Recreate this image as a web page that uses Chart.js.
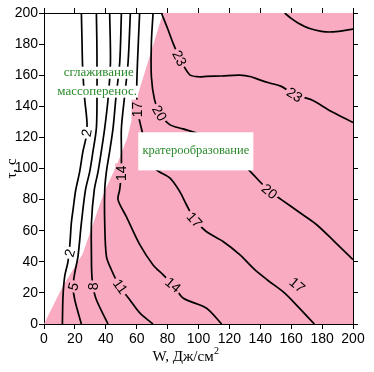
<!DOCTYPE html>
<html lang="ru">
<head>
<meta charset="utf-8">
<title>Кратерообразование</title>
<script src="https://cdn.jsdelivr.net/npm/chart.js@4.4.0/dist/chart.umd.min.js"></script>
<style>
    html, body { margin: 0; padding: 0; background: #fff; }
    #wrap { width: 374px; height: 372px; }
</style>
</head>
<body>
<div id="wrap"><canvas id="chart" width="374" height="372"></canvas></div>
<script>
/**
 * Данные: W (Дж/см2) и τ (с)
 */
const xTicks = [0, 20, 40, 60, 80, 100, 120, 140, 160, 180, 200];
const yTicks = [0, 20, 40, 60, 80, 100, 120, 140, 160, 180, 200];

// граница области кратерообразования
const craterW = [0, 12, 25, 39, 47, 54, 60, 77, 200, 200, 0];
const craterT = [0, 24, 45, 85, 102, 120, 145, 200, 200, 0, 0];

// изолинии
const c2W = [24.2, 24.6, 25.0, 26.3, 27.8, 27.4, 25.2, 23.1, 20.5, 19.0, 17.7, 16.8, 15.5, 13.4, 12.3, 11.9];
const c2T = [200, 182, 165, 145, 130, 121, 111, 98, 86, 75, 65, 52, 40, 30.6, 17.7, 0];

const c5W = [33.9, 34.2, 34.3, 34.3, 33.9, 31.7, 29.6, 26.8, 24.2, 22.0, 19.9, 18.8, 19.9, 24.2];
const c5T = [200, 182, 168, 145, 126, 111, 98, 86, 65, 43.5, 32.8, 24.2, 15.6, 0];

const c8W = [42.5, 43.0, 41.5, 39.3, 37.1, 35.0, 32.5, 30.7, 30.7, 30.9, 31.7, 33.9, 41.4];
const c8T = [200, 168, 145, 126, 111, 98, 86, 65, 43.5, 32.8, 24.2, 15.6, 0];

const c11W = [50.1, 49.0, 46.5, 44.7, 42.5, 40.4, 39.3, 39.3, 40.4, 43.6, 49.0, 55.5, 62.0, 70.5];
const c11T = [200, 168, 145, 126, 111, 98, 86, 65, 43.5, 34.9, 24.2, 15.6, 7.1, 0];

const c14W = [55.9, 54.4, 52.0, 50.1, 50.1, 50.0, 49.0, 47.9, 53.3, 62.0, 70.6, 77.0, 83.5, 90.0, 105.0, 115.0];
const c14T = [200, 168, 145, 126, 111, 97, 86.4, 80, 69, 51, 38, 31.7, 25.3, 16.7, 10.3, 0];

const c17W = [61.9, 60.5, 60.0, 60.5, 62.5, 66.0, 70.0, 72.7, 81.4, 87.8, 92.2, 97.5, 105.0, 115.9, 126.7, 136.4, 145.0, 155.8, 165.0, 175.0];
const c17T = [200, 168, 150, 138, 128, 115, 104, 99.2, 93.9, 85.3, 76.7, 67, 59.5, 53.1, 44.6, 34.9, 28, 19.9, 10.5, 0];

const c20W = [70.6, 69.5, 69.5, 71.6, 74.9, 81.4, 90.0, 100.8, 112.0, 122.0, 130.0, 137.5, 146.0, 153.6, 165.0, 176.3, 188.0, 200];
const c20T = [200, 181, 159, 144, 135.7, 128.2, 125.5, 122, 116, 108, 101.5, 93.9, 85.3, 80, 72, 64, 53, 41.4];

const c23W = [76.0, 80.0, 83.5, 87.8, 94.3, 100.0, 105.0, 115.0, 126.7, 134.0, 139.6, 146.0, 153.6, 162.3, 173.0, 186.0, 200];
const c23T = [200, 190, 180.7, 171, 160.3, 159, 159.2, 159.5, 160, 159, 157, 155, 152.8, 147.5, 144.2, 136.7, 129.6];

const c26W = [155.8, 160.0, 164.4, 172.0, 179.5, 186.0, 193.0, 200];
const c26T = [200, 196.5, 193.6, 190, 188.2, 187.8, 188.5, 189.7];

// подписи изолиний
const labelText = ['2', '2', '5', '8', '11', '14', '14', '17', '17', '17', '20', '20', '23', '23'];
const labelW = [27.4, 16.6, 18.8, 31.7, 49.5, 50.0, 83.5, 60.5, 97.5, 164.0, 74.9, 146.0, 87.8, 162.3];
const labelT = [123, 45.7, 24.2, 24.2, 24.2, 97, 25.3, 138, 67, 25.3, 135.7, 85.3, 171, 147.5];
const labelAngle = [-80, -75, -75, -90, 55, -90, 40, -90, 48, 40, 60, 40, 62, 33];

const PINK = '#f9abc1';
const GREEN = '#2b8a2b';
const SERIF = '"Liberation Serif", "Times New Roman", serif';
const SANS = '"Liberation Sans", Arial, sans-serif';

function toPoints(ws, ts) {
    return ws.map((w, i) => ({ x: w, y: ts[i] }));
}

/**
 * Точка внутри области кратерообразования?
 */
function inCrater(w, t) {
    let inside = false;
    for (let i = 0, j = craterW.length - 1; i < craterW.length; j = i++) {
        const xi = craterW[i], yi = craterT[i], xj = craterW[j], yj = craterT[j];
        if ((yi > t) !== (yj > t) && w < (xj - xi) * (t - yi) / (yj - yi) + xi) {
            inside = !inside;
        }
    }
    return inside;
}

function contour(ws, ts) {
    return {
        data: toPoints(ws, ts),
        showLine: true,
        borderColor: '#000',
        borderWidth: 1.7,
        pointRadius: 0,
        tension: 0.3,
        fill: false,
        order: 1
    };
}

/**
 * Надписи, белая рамка, подписи изолиний, подпись оси X
 */
const annotations = {
    id: 'annotations',
    afterDatasetsDraw(chart) {
        const { ctx, chartArea, scales: { x, y } } = chart;
        ctx.save();

        // белая плашка "кратерообразование"
        const bx1 = x.getPixelForValue(61), bx2 = x.getPixelForValue(135.5);
        const by1 = y.getPixelForValue(123.3), by2 = y.getPixelForValue(98.8);
        ctx.fillStyle = '#fff';
        ctx.fillRect(bx1, by1, bx2 - bx1, by2 - by1);
        ctx.fillStyle = GREEN;
        ctx.font = '12.5px ' + SERIF;
        ctx.textAlign = 'center';
        ctx.textBaseline = 'alphabetic';
        ctx.fillText('кратерообразование', (bx1 + bx2) / 2, (by1 + by2) / 2 + 3);

        // надписи в левой области
        [['сглаживание', 35.4, 161.6], ['массоперенос.', 34.4, 149.4]].forEach(([txt, w, t]) => {
            const px = x.getPixelForValue(w), py = y.getPixelForValue(t);
            ctx.font = '13px ' + SERIF;
            const tw = ctx.measureText(txt).width;
            ctx.fillStyle = '#fff';
            ctx.fillRect(px - tw / 2 - 1, py - 6, tw + 2, 12);
            ctx.fillStyle = GREEN;
            ctx.fillText(txt, px, py + 3);
        });

        // подписи изолиний
        ctx.font = '14px ' + SANS;
        labelText.forEach((txt, i) => {
            const px = x.getPixelForValue(labelW[i]);
            const py = y.getPixelForValue(labelT[i]);
            ctx.save();
            ctx.translate(px, py);
            ctx.rotate(labelAngle[i] * Math.PI / 180);
            const tw = ctx.measureText(txt).width;
            ctx.fillStyle = inCrater(labelW[i], labelT[i]) ? PINK : '#fff';
            ctx.fillRect(-tw / 2 - 2, -6, tw + 4, 12);
            ctx.fillStyle = '#000';
            ctx.textAlign = 'center';
            ctx.textBaseline = 'middle';
            ctx.fillText(txt, 0, 1);
            ctx.restore();
        });

        // подпись оси X с верхним индексом
        const cx = chartArea.left + (chartArea.right - chartArea.left) * 0.458;
        const base = chartArea.bottom + 37;
        ctx.fillStyle = '#000';
        ctx.textBaseline = 'alphabetic';
        ctx.textAlign = 'left';
        ctx.font = '15px ' + SERIF;
        const main = 'W, Дж/см';
        const mw = ctx.measureText(main).width;
        ctx.font = '10px ' + SERIF;
        const sw = ctx.measureText('2').width;
        const start = cx - (mw + sw) / 2;
        ctx.font = '15px ' + SERIF;
        ctx.fillText(main, start, base);
        ctx.font = '10px ' + SERIF;
        ctx.fillText('2', start + mw + 0.5, base - 7);

        ctx.restore();
    }
};

function axis(position, size, showLabels, ticksList) {
    const horizontal = position === 'bottom' || position === 'top';
    return {
        type: 'linear',
        position: position,
        min: 0,
        max: 200,
        afterBuildTicks: s => { s.ticks = ticksList.map(v => ({ value: v })); },
        afterFit: s => { if (horizontal) s.height = size; else s.width = size; },
        grid: { drawOnChartArea: false, drawTicks: true, tickLength: 5, tickColor: '#000', tickWidth: 1 },
        border: { display: true, color: '#000', width: 1 },
        ticks: {
            display: showLabels,
            color: '#000',
            font: { family: SANS, size: 14 },
            padding: horizontal ? 2 : 1,
            maxRotation: 0,
            autoSkip: false
        }
    };
}

document.addEventListener('DOMContentLoaded', function() {
    const yAxis = axis('left', 44, true, yTicks);
    yAxis.title = {
        display: true,
        text: 'τ, с',
        color: '#000',
        font: { family: SERIF, size: 15 },
        padding: { top: 3, bottom: 0 }
    };

    new Chart(document.getElementById('chart'), {
        type: 'scatter',
        data: {
            datasets: [
                {
                    data: toPoints(craterW, craterT),
                    showLine: true,
                    backgroundColor: PINK,
                    borderColor: PINK,
                    borderWidth: 0,
                    pointRadius: 0,
                    tension: 0,
                    fill: 'shape',
                    order: 2
                },
                contour(c2W, c2T),
                contour(c5W, c5T),
                contour(c8W, c8T),
                contour(c11W, c11T),
                contour(c14W, c14T),
                contour(c17W, c17T),
                contour(c20W, c20T),
                contour(c23W, c23T),
                contour(c26W, c26T)
            ]
        },
        options: {
            responsive: false,
            animation: false,
            devicePixelRatio: 1,
            layout: { padding: { top: 8, right: 16, bottom: 0, left: 0 } },
            scales: {
                x: axis('bottom', 48, true, xTicks),
                y: yAxis,
                x2: axis('top', 5, false, xTicks),
                y2: axis('right', 5, false, yTicks)
            },
            plugins: {
                legend: { display: false },
                tooltip: { enabled: false }
            }
        },
        plugins: [annotations]
    });
});
</script>
</body>
</html>
